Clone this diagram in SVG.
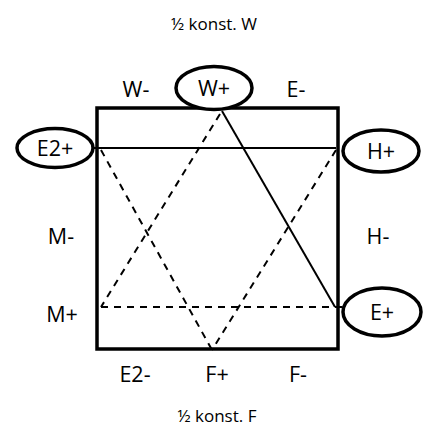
<svg xmlns="http://www.w3.org/2000/svg" width="429" height="429" viewBox="0 0 429 429">
<style>
text{font-family:"Open Sans","Liberation Sans",sans-serif;fill:#000;text-anchor:middle}
.lbl{font-size:21.5px}
.ttl{font-size:17px}
.node{fill:#fff;stroke:#000;stroke-width:3.5}
.solid{stroke:#000;stroke-width:2;fill:none}
.dash{stroke:#000;stroke-width:2;fill:none;stroke-dasharray:7,6}
</style>
<rect width="429" height="429" fill="#fff"/>
<rect x="97" y="108" width="241" height="241" fill="none" stroke="#000" stroke-width="3.5"/>
<g id="connectors">
<line class="solid" x1="93" y1="148" x2="336" y2="148"/>
<line class="solid" x1="222" y1="111" x2="335" y2="307"/>
<line class="dash" x1="220" y1="114" x2="101" y2="307"/>
<line class="dash" x1="101" y1="307" x2="343" y2="307"/>
<line class="dash" x1="101" y1="150" x2="212" y2="350"/>
<line class="dash" x1="336" y1="150" x2="212" y2="350"/>
</g>
<g id="title-top"><text class="ttl" x="214" y="30">½ konst. W</text></g>
<g id="title-bottom"><text class="ttl" x="217" y="422">½ konst. F</text></g>
<g id="W-minus"><text class="lbl" x="136" y="97">W-</text></g>
<g id="E-minus"><text class="lbl" x="296" y="97">E-</text></g>
<g id="W-plus"><ellipse class="node" cx="214" cy="88" rx="38" ry="21.5"/><text class="lbl" x="214" y="96">W+</text></g>
<g id="E2-plus"><ellipse class="node" cx="55" cy="148" rx="38" ry="19.5"/><text class="lbl" x="55" y="156">E2+</text></g>
<g id="H-plus"><ellipse class="node" cx="381" cy="151" rx="38" ry="21"/><text class="lbl" x="381" y="159">H+</text></g>
<g id="M-minus"><text class="lbl" x="61" y="244">M-</text></g>
<g id="H-minus"><text class="lbl" x="378" y="244">H-</text></g>
<g id="M-plus"><text class="lbl" x="62" y="322">M+</text></g>
<g id="E-plus"><ellipse class="node" cx="382" cy="312" rx="39" ry="24"/><text class="lbl" x="382" y="320">E+</text></g>
<g id="E2-minus"><text class="lbl" x="135" y="382">E2-</text></g>
<g id="F-plus"><text class="lbl" x="217" y="382">F+</text></g>
<g id="F-minus"><text class="lbl" x="298" y="382">F-</text></g>
</svg>
